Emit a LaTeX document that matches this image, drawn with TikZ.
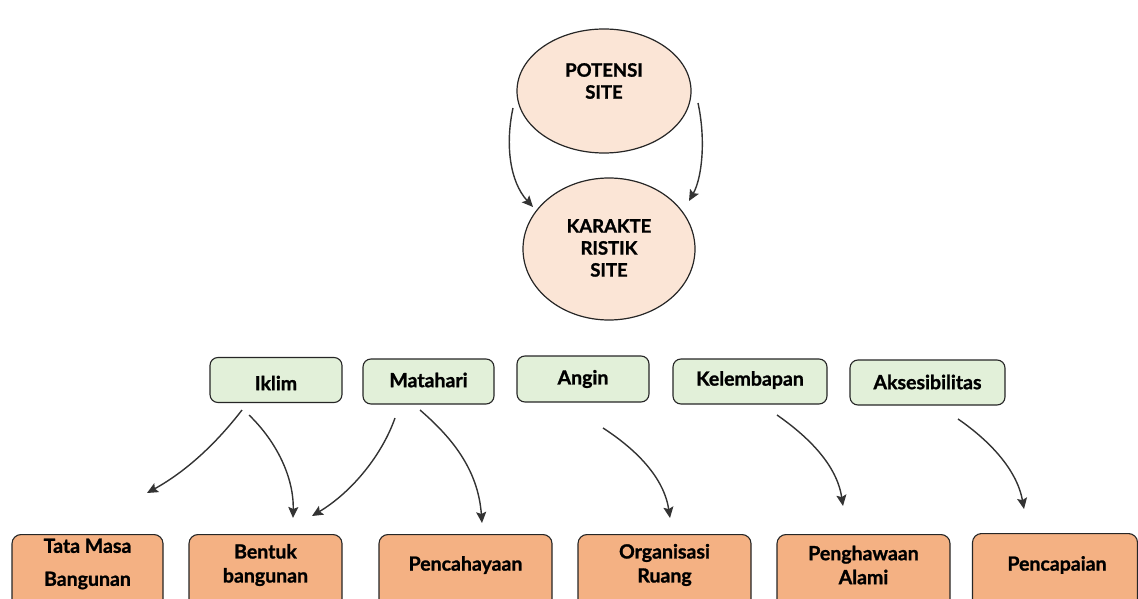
\documentclass[tikz,border=0pt]{standalone}
\usepackage{fontspec}
\setmainfont{Lato}[BoldFeatures={FakeBold=1.2}]
\usetikzlibrary{arrows.meta,calc,shapes.geometric}
\definecolor{peach}{HTML}{FBE5D6}
\definecolor{greenbox}{HTML}{E2F0D9}
\definecolor{orangebox}{HTML}{F4B183}
\definecolor{edgec}{HTML}{262626}
\definecolor{arrowc}{HTML}{333333}
\begin{document}
\begin{tikzpicture}[x=1pt,y=-1pt,
  every node/.style={font=\bfseries\fontsize{19.5}{24}\selectfont, inner sep=0pt, text=black},
  oval/.style={ellipse, draw=edgec, line width=1.2pt, fill=peach},
  gbox/.style={rectangle, rounded corners=8pt, draw=edgec, line width=1.1pt, fill=greenbox},
  obox/.style={rectangle, rounded corners=9pt, draw=edgec, line width=1.1pt, fill=orangebox, minimum height=80},
  conn/.style={draw=arrowc, line width=1.4pt, -{Stealth[length=11pt,width=10pt,inset=2pt]}}
]
\useasboundingbox (0,0) rectangle (1138,599);
\clip (0,0) rectangle (1138,599);

% ellipses
\node[oval, minimum width=174, minimum height=124] (pot) at (604,91) {};
\node[align=center, font=\bfseries\fontsize{18.5}{22}\selectfont] (potT) at (604,81) {POTENSI\\SITE};
\node[oval, minimum width=172, minimum height=142] (kar) at (609,249) {};
\node[align=center, font=\bfseries\fontsize{18.5}{22}\selectfont] (karT) at (609,248) {KARAKTE\\RISTIK\\SITE};

% green boxes
\node[gbox, minimum width=132, minimum height=45] (iklim) at (276,380) {};
\node (iklimT) at (276,383) {Iklim};
\node[gbox, minimum width=131, minimum height=45] (mata) at (428.5,381.5) {};
\node (mataT) at (428.5,380) {Matahari};
\node[gbox, minimum width=132, minimum height=46] (angin) at (583,379) {};
\node (anginT) at (583,379) {Angin};
\node[gbox, minimum width=154, minimum height=45] (lemb) at (750,381.5) {};
\node (lembT) at (750,380) {Kelembapan};
\node[gbox, minimum width=155, minimum height=45] (akses) at (927.5,382.5) {};
\node (aksesT) at (927.5,382) {Aksesibilitas};

% orange boxes
\node[obox, minimum width=151, anchor=north] (tata) at (87.5,534) {};
\node[align=center, font=\bfseries\fontsize{19.5}{33}\selectfont] (tataT) at (87.5,564) {Tata Masa\\Bangunan};
\node[obox, minimum width=153, anchor=north] (bentuk) at (265.5,534) {};
\node[align=center] (bentukT) at (265.5,565) {Bentuk\\bangunan};
\node[obox, minimum width=173, anchor=north] (cahaya) at (465.5,534) {};
\node (cahayaT) at (465.5,565) {Pencahayaan};
\node[obox, minimum width=173, anchor=north] (organ) at (664.5,534) {};
\node[align=center] (organT) at (664.5,565) {Organisasi\\Ruang};
\node[obox, minimum width=173, anchor=north] (hawa) at (863.5,534) {};
\node[align=center] (hawaT) at (863.5,565) {Penghawaan\\Alami};
\node[obox, minimum width=165, anchor=north] (capai) at (1055,533) {};
\node (capaiT) at (1057,565) {Pencapaian};

% connector end points
\coordinate (a1s) at (513,108); \coordinate (a1e) at (533,207);
\coordinate (a2s) at (698,103); \coordinate (a2e) at (689,201);
\coordinate (b1s) at (242,410); \coordinate (b1e) at (147,493);
\coordinate (b2s) at (249,415); \coordinate (b2e) at (293,518);
\coordinate (b3s) at (395,418); \coordinate (b3e) at (312,516);
\coordinate (b4s) at (420,410); \coordinate (b4e) at (482,523);
\coordinate (b5s) at (603,428); \coordinate (b5e) at (670,518);
\coordinate (b6s) at (777,415); \coordinate (b6e) at (843,506);
\coordinate (b7s) at (958,419); \coordinate (b7e) at (1024,509);

\draw[conn] (a1s) .. controls (505,145) and (510,182) .. (a1e);
\draw[conn] (a2s) .. controls (706,140) and (702,178) .. (a2e);
\draw[conn] (b1s) .. controls (215,445) and (185,472) .. (b1e);
\draw[conn] (b2s) .. controls (277,442) and (294,478) .. (b2e);
\draw[conn] (b3s) .. controls (382,455) and (352,492) .. (b3e);
\draw[conn] (b4s) .. controls (450,436) and (478,468) .. (b4e);
\draw[conn] (b5s) .. controls (637,450) and (664,478) .. (b5e);
\draw[conn] (b6s) .. controls (810,438) and (837,466) .. (b6e);
\draw[conn] (b7s) .. controls (990,441) and (1017,470) .. (b7e);
\end{tikzpicture}
\end{document}
